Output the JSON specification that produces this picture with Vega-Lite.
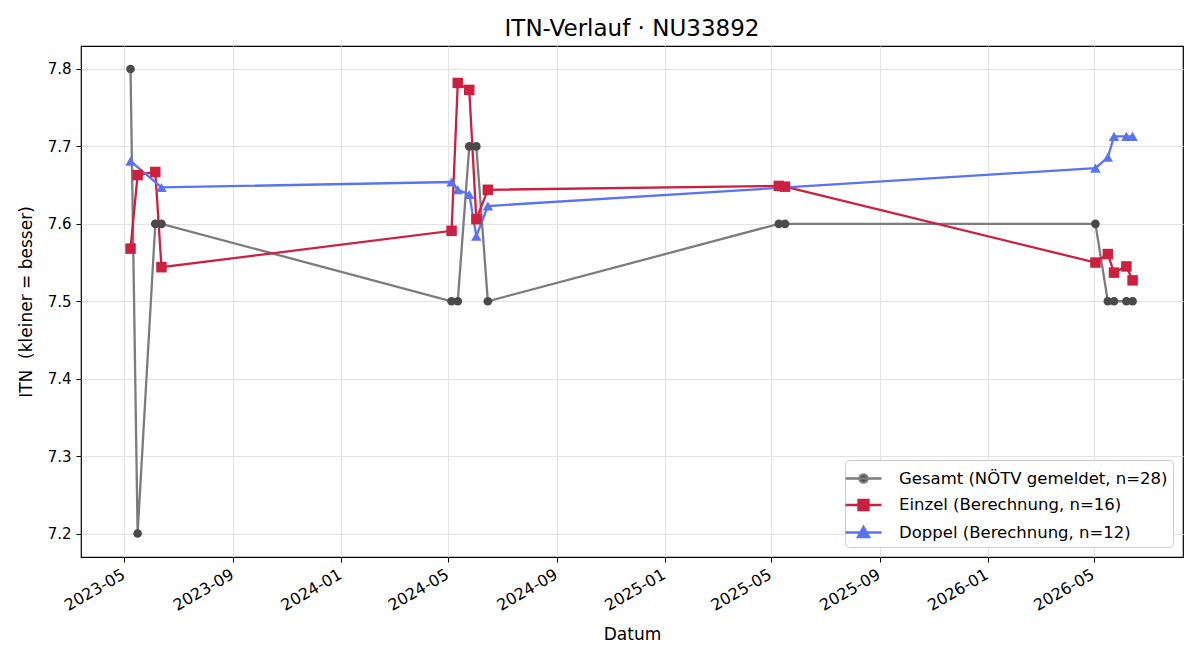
{
  "$schema": "https://vega.github.io/schema/vega-lite/v6.json",
  "autosize": {"type": "none"},
  "width": 1102,
  "height": 511,
  "padding": {"left": 81, "top": 46, "right": 17, "bottom": 103},
  "background": "white",
  "title": {"text": "ITN-Verlauf · NU33892", "font": "DejaVu Sans", "fontSize": 23, "fontWeight": "normal", "color": "black", "anchor": "middle", "offset": 5},
  "config": {
    "view": {"stroke": "black", "strokeWidth": 1.2},
    "font": "DejaVu Sans",
    "axis": {"labelFont": "DejaVu Sans", "titleFont": "DejaVu Sans", "labelFontSize": 15, "titleFontSize": 17, "titleFontWeight": "normal", "labelColor": "black", "titleColor": "black", "tickColor": "black", "tickSize": 5, "domain": false, "gridColor": "#e3e3e3", "gridWidth": 1}
  },
  "data": {"values": [
    {"Datum": "2023-05-08", "ITN": 7.8, "Serie": "Gesamt (NÖTV gemeldet, n=28)"},
    {"Datum": "2023-05-16", "ITN": 7.2, "Serie": "Gesamt (NÖTV gemeldet, n=28)"},
    {"Datum": "2023-06-05", "ITN": 7.6, "Serie": "Gesamt (NÖTV gemeldet, n=28)"},
    {"Datum": "2023-06-12", "ITN": 7.6, "Serie": "Gesamt (NÖTV gemeldet, n=28)"},
    {"Datum": "2024-05-05", "ITN": 7.5, "Serie": "Gesamt (NÖTV gemeldet, n=28)"},
    {"Datum": "2024-05-12", "ITN": 7.5, "Serie": "Gesamt (NÖTV gemeldet, n=28)"},
    {"Datum": "2024-05-25", "ITN": 7.7, "Serie": "Gesamt (NÖTV gemeldet, n=28)"},
    {"Datum": "2024-06-02", "ITN": 7.7, "Serie": "Gesamt (NÖTV gemeldet, n=28)"},
    {"Datum": "2024-06-15", "ITN": 7.5, "Serie": "Gesamt (NÖTV gemeldet, n=28)"},
    {"Datum": "2025-05-10", "ITN": 7.6, "Serie": "Gesamt (NÖTV gemeldet, n=28)"},
    {"Datum": "2025-05-17", "ITN": 7.6, "Serie": "Gesamt (NÖTV gemeldet, n=28)"},
    {"Datum": "2026-05-03", "ITN": 7.6, "Serie": "Gesamt (NÖTV gemeldet, n=28)"},
    {"Datum": "2026-05-17", "ITN": 7.5, "Serie": "Gesamt (NÖTV gemeldet, n=28)"},
    {"Datum": "2026-05-24", "ITN": 7.5, "Serie": "Gesamt (NÖTV gemeldet, n=28)"},
    {"Datum": "2026-06-07", "ITN": 7.5, "Serie": "Gesamt (NÖTV gemeldet, n=28)"},
    {"Datum": "2026-06-14", "ITN": 7.5, "Serie": "Gesamt (NÖTV gemeldet, n=28)"},
    {"Datum": "2023-05-08", "ITN": 7.568, "Serie": "Einzel (Berechnung, n=16)"},
    {"Datum": "2023-05-16", "ITN": 7.663, "Serie": "Einzel (Berechnung, n=16)"},
    {"Datum": "2023-06-05", "ITN": 7.667, "Serie": "Einzel (Berechnung, n=16)"},
    {"Datum": "2023-06-12", "ITN": 7.544, "Serie": "Einzel (Berechnung, n=16)"},
    {"Datum": "2024-05-05", "ITN": 7.591, "Serie": "Einzel (Berechnung, n=16)"},
    {"Datum": "2024-05-12", "ITN": 7.782, "Serie": "Einzel (Berechnung, n=16)"},
    {"Datum": "2024-05-25", "ITN": 7.773, "Serie": "Einzel (Berechnung, n=16)"},
    {"Datum": "2024-06-02", "ITN": 7.606, "Serie": "Einzel (Berechnung, n=16)"},
    {"Datum": "2024-06-15", "ITN": 7.644, "Serie": "Einzel (Berechnung, n=16)"},
    {"Datum": "2025-05-10", "ITN": 7.649, "Serie": "Einzel (Berechnung, n=16)"},
    {"Datum": "2025-05-17", "ITN": 7.648, "Serie": "Einzel (Berechnung, n=16)"},
    {"Datum": "2026-05-03", "ITN": 7.550, "Serie": "Einzel (Berechnung, n=16)"},
    {"Datum": "2026-05-17", "ITN": 7.561, "Serie": "Einzel (Berechnung, n=16)"},
    {"Datum": "2026-05-24", "ITN": 7.537, "Serie": "Einzel (Berechnung, n=16)"},
    {"Datum": "2026-06-07", "ITN": 7.545, "Serie": "Einzel (Berechnung, n=16)"},
    {"Datum": "2026-06-14", "ITN": 7.527, "Serie": "Einzel (Berechnung, n=16)"},
    {"Datum": "2023-05-08", "ITN": 7.681, "Serie": "Doppel (Berechnung, n=12)"},
    {"Datum": "2023-06-12", "ITN": 7.647, "Serie": "Doppel (Berechnung, n=12)"},
    {"Datum": "2024-05-05", "ITN": 7.654, "Serie": "Doppel (Berechnung, n=12)"},
    {"Datum": "2024-05-12", "ITN": 7.644, "Serie": "Doppel (Berechnung, n=12)"},
    {"Datum": "2024-05-25", "ITN": 7.638, "Serie": "Doppel (Berechnung, n=12)"},
    {"Datum": "2024-06-02", "ITN": 7.584, "Serie": "Doppel (Berechnung, n=12)"},
    {"Datum": "2024-06-15", "ITN": 7.623, "Serie": "Doppel (Berechnung, n=12)"},
    {"Datum": "2026-05-03", "ITN": 7.672, "Serie": "Doppel (Berechnung, n=12)"},
    {"Datum": "2026-05-17", "ITN": 7.686, "Serie": "Doppel (Berechnung, n=12)"},
    {"Datum": "2026-05-24", "ITN": 7.713, "Serie": "Doppel (Berechnung, n=12)"},
    {"Datum": "2026-06-07", "ITN": 7.713, "Serie": "Doppel (Berechnung, n=12)"},
    {"Datum": "2026-06-14", "ITN": 7.713, "Serie": "Doppel (Berechnung, n=12)"}
  ]},
  "encoding": {
    "x": {"field": "Datum", "type": "temporal",
      "scale": {"type": "utc", "domain": [{"year": 2023, "month": 3, "date": 13, "utc": true}, {"year": 2026, "month": 8, "date": 10, "utc": true}], "nice": false},
      "axis": {"title": "Datum", "labelExpr": "utcFormat(datum.value, '%Y-%m')", "labelFontSize": 16, "labelAngle": -30, "labelAlign": "right", "labelBaseline": "top", "labelPadding": 4, "labelOffset": -5, "titlePadding": 13,
        "values": [
          {"year": 2023, "month": 5, "date": 1, "utc": true},
          {"year": 2023, "month": 9, "date": 1, "utc": true},
          {"year": 2024, "month": 1, "date": 1, "utc": true},
          {"year": 2024, "month": 5, "date": 1, "utc": true},
          {"year": 2024, "month": 9, "date": 1, "utc": true},
          {"year": 2025, "month": 1, "date": 1, "utc": true},
          {"year": 2025, "month": 5, "date": 1, "utc": true},
          {"year": 2025, "month": 9, "date": 1, "utc": true},
          {"year": 2026, "month": 1, "date": 1, "utc": true},
          {"year": 2026, "month": 5, "date": 1, "utc": true}
        ]}},
    "y": {"field": "ITN", "type": "quantitative",
      "scale": {"domain": [7.1697, 7.8297], "nice": false, "zero": false},
      "axis": {"title": "ITN\u00a0\u00a0(kleiner = besser)", "values": [7.2, 7.3, 7.4, 7.5, 7.6, 7.7, 7.8], "format": ".1f", "labelPadding": 5, "titlePadding": 12}}
  },
  "layer": [
    {
      "mark": {"type": "line", "strokeWidth": 2.3},
      "encoding": {
        "color": {"field": "Serie", "type": "nominal",
          "scale": {"domain": ["Gesamt (NÖTV gemeldet, n=28)", "Einzel (Berechnung, n=16)", "Doppel (Berechnung, n=12)"], "range": ["#7c7c7c", "#cb2040", "#5a73f0"]},
          "legend": {"title": null, "orient": "bottom-right", "offset": 10, "labelFont": "DejaVu Sans", "labelFontSize": 16.5, "labelColor": "black", "labelLimit": 500, "symbolSize": 576, "symbolStrokeWidth": 2.3, "symbolOpacity": 1, "rowPadding": 3.5, "labelOffset": 22,
            "padding": 5, "strokeColor": "#cccccc", "fillColor": "white", "cornerRadius": 4,
            "encode": {"symbols": {"update": {
              "shape": {"signal": "indexof(datum.value, 'Gesamt') === 0 ? 'M-1.5,0H1.5M-0.34,0A0.34,0.34 0 1,0 0.34,0A0.34,0.34 0 1,0 -0.34,0Z' : (indexof(datum.value, 'Einzel') === 0 ? 'M-1.5,0H1.5M-0.42,-0.42H0.42V0.42H-0.42Z' : 'M-1.5,0H1.5M-0.47,0.38L0,-0.47L0.47,0.38Z')"},
              "fill": {"signal": "indexof(datum.value, 'Gesamt') === 0 ? '#4a4a4a' : (indexof(datum.value, 'Einzel') === 0 ? '#cb2040' : '#5a73f0')"},
              "fillOpacity": {"value": 1}
            }}}
          }
        }
      }
    },
    {
      "transform": [{"filter": "indexof(datum.Serie, 'Gesamt') === 0"}],
      "mark": {"type": "point", "filled": true, "opacity": 1, "shape": "circle", "size": 75, "color": "#4a4a4a"}
    },
    {
      "transform": [{"filter": "indexof(datum.Serie, 'Einzel') === 0"}],
      "mark": {"type": "point", "filled": true, "opacity": 1, "shape": "square", "size": 110, "color": "#cb2040"}
    },
    {
      "transform": [{"filter": "indexof(datum.Serie, 'Doppel') === 0"}],
      "mark": {"type": "point", "filled": true, "opacity": 1, "shape": "triangle-up", "size": 110, "color": "#5a73f0"}
    }
  ]
}
